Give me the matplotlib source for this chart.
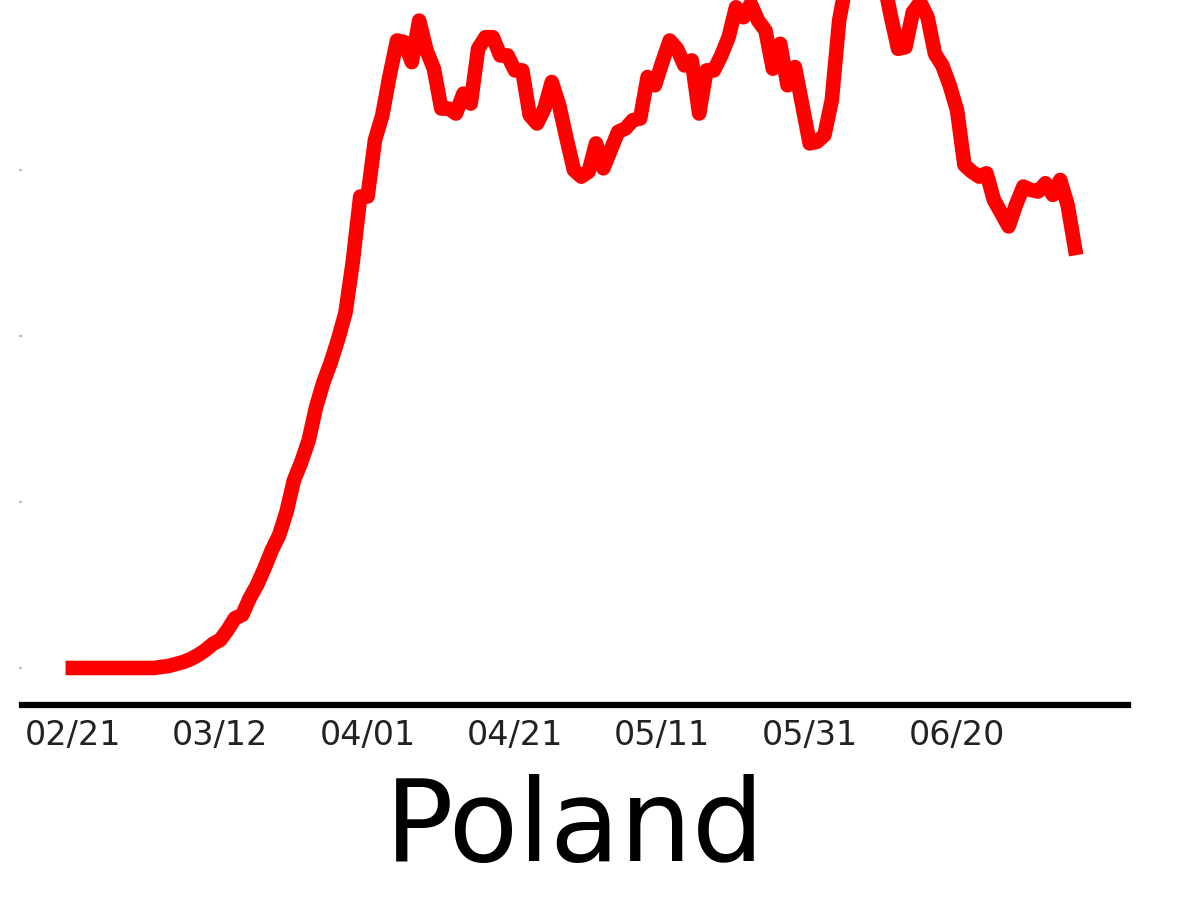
import matplotlib.pyplot as plt
import matplotlib.dates as mdates
import numpy as np
import pandas as pd

# daily new cases (7 day average), Poland, from 02/21
start = "2020-02-21"
cases = [0, 0, 0, 0, 0, 0, 0, 0, 0, 0,
         0, 0, 0.6, 1.2, 2.4, 3.6, 5.4, 7.8, 10.8, 14.5,
         16.9, 22.9, 30, 32, 42, 50, 60, 71, 80, 94,
         113, 124, 137, 157, 172, 184, 198, 214, 245, 284,
         284, 318, 333, 357, 378, 377, 365, 390, 372, 361,
         337, 337, 334, 346, 340, 373, 380, 380, 369, 369,
         360, 360, 333, 328, 337, 353, 339, 319, 300, 296,
         299, 316, 301, 312, 323, 325, 330, 331, 356, 351,
         365, 378, 373, 363, 366, 334, 360, 360, 369, 380,
         398, 392, 400, 390, 384, 361, 376, 351, 362, 339,
         316, 317, 321, 342, 390, 414, 450, 470, 465, 445,
         415, 393, 373, 374, 395, 401, 392, 370, 363, 351,
         336, 303, 299, 296, 298, 282, 274, 266, 279, 290,
         288, 287, 292, 285, 294, 279, 253]
dates = pd.date_range(start, periods=len(cases), freq="D")
tick_dates = pd.date_range(start, periods=7, freq="20D")
y_ticks = [0, 100, 200, 300]
country = "Poland"

fig = plt.figure(figsize=(12, 9), dpi=100)
ax = fig.add_axes([22 / 1200, 195 / 900, 1106 / 1200, 705 / 900])

ax.plot(dates, cases, color="red", linewidth=10.5, solid_joinstyle="round")

ax.set_xlim(pd.Timestamp(start) - pd.Timedelta(days=6.9),
            pd.Timestamp(start) + pd.Timedelta(days=143.2))
ax.set_ylim(-22.3, 402.4)

ax.set_xticks(tick_dates)
ax.xaxis.set_major_formatter(mdates.DateFormatter("%m/%d"))
ax.set_yticks(y_ticks)
ax.set_yticklabels([])

for s in ["top", "right", "left"]:
    ax.spines[s].set_visible(False)
ax.spines["bottom"].set_linewidth(4.5)
ax.spines["bottom"].set_color("black")

ax.tick_params(axis="x", length=0, pad=10, labelsize=24, labelcolor="#222222")
ax.tick_params(axis="y", length=2, width=1.5, color="#bbbbbb")

ax.set_xlabel(country, fontsize=82, labelpad=16)

fig.savefig("out.png", dpi=100)
